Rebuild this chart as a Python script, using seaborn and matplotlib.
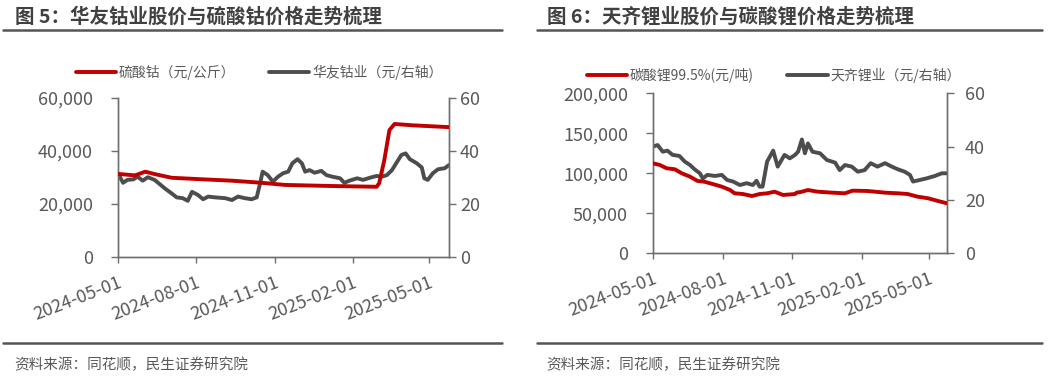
import pandas as pd
import numpy as np
import matplotlib.pyplot as plt
import matplotlib.dates as mdates
from matplotlib.lines import Line2D
from matplotlib.ticker import FuncFormatter
import seaborn as sns

# ---- data: left panel (cobalt sulfate vs Huayou Cobalt) ----
cos_dates = ['2024-05-01', '2024-05-03', '2024-05-21', '2024-06-02', '2024-06-13', '2024-07-03',
             '2024-08-03', '2024-09-12', '2024-10-17', '2024-11-13', '2025-01-06', '2025-03-01',
             '2025-03-04', '2025-03-10', '2025-03-16', '2025-03-22', '2025-04-12', '2025-05-25']
cos_price = [31300, 31300, 30800, 32200, 31300, 29900,
             29400, 28800, 28000, 27200, 26800, 26500,
             27900, 36600, 47900, 50200, 49700, 49000]

hy_dates = ['2024-05-01', '2024-05-03', '2024-05-07', '2024-05-12', '2024-05-19', '2024-05-24', '2024-05-30',
            '2024-06-05', '2024-06-13', '2024-06-19', '2024-06-25', '2024-07-03', '2024-07-09',
            '2024-07-16', '2024-07-22', '2024-07-27', '2024-08-03', '2024-08-09', '2024-08-15',
            '2024-08-23', '2024-09-04', '2024-09-12', '2024-09-19', '2024-09-27', '2024-10-05',
            '2024-10-11', '2024-10-15', '2024-10-18', '2024-10-24', '2024-10-30', '2024-11-05',
            '2024-11-11', '2024-11-17', '2024-11-22', '2024-11-28', '2024-12-03', '2024-12-07',
            '2024-12-12', '2024-12-18', '2024-12-26', '2025-01-01', '2025-01-08', '2025-01-17',
            '2025-01-22', '2025-01-28', '2025-02-06', '2025-02-13', '2025-02-21', '2025-03-01',
            '2025-03-07', '2025-03-13', '2025-03-19', '2025-03-24', '2025-03-30', '2025-04-04',
            '2025-04-09', '2025-04-17', '2025-04-23', '2025-04-26', '2025-04-30', '2025-05-06',
            '2025-05-12', '2025-05-20', '2025-05-25']
hy_price = [30.0, 30.3, 28.0, 29.1, 29.3, 30.3, 28.8,
            30.1, 29.1, 27.5, 25.9, 24.0, 22.5,
            22.2, 21.2, 24.6, 23.4, 21.8, 22.8,
            22.5, 22.2, 21.5, 22.8, 22.2, 21.8,
            22.5, 27.8, 32.2, 30.9, 28.4, 30.3,
            31.6, 32.2, 35.4, 36.9, 35.4, 32.2,
            32.8, 31.8, 32.5, 30.9, 30.3, 29.7,
            28.0, 28.8, 29.7, 29.1, 29.9, 30.6,
            30.3, 30.9, 32.8, 35.4, 38.5, 39.1,
            36.9, 35.4, 33.8, 29.7, 29.1, 31.6,
            33.1, 33.5, 34.7]

# ---- data: right panel (lithium carbonate vs Tianqi Lithium) ----
li_dates = ['2024-05-01', '2024-05-10', '2024-05-19', '2024-05-30', '2024-06-08', '2024-06-19',
            '2024-06-29', '2024-07-08', '2024-07-19', '2024-07-31', '2024-08-11', '2024-08-17',
            '2024-08-28', '2024-09-09', '2024-09-19', '2024-09-29', '2024-10-09', '2024-10-20',
            '2024-11-05', '2024-11-07', '2024-11-14', '2024-11-22', '2024-12-05', '2024-12-24',
            '2025-01-10', '2025-01-20', '2025-02-09', '2025-03-04', '2025-03-21', '2025-04-03',
            '2025-04-16', '2025-04-30', '2025-05-13', '2025-05-25']
li_price = [112500, 110400, 106300, 105000, 100000, 95800,
            90400, 89500, 86600, 83300, 79100, 75000,
            74100, 71600, 74100, 75000, 77000, 72900,
            74100, 75800, 77000, 79100, 77000, 75800,
            75000, 78300, 77900, 75800, 75000, 74100,
            70800, 68800, 65400, 62500]

tq_dates = ['2024-05-01', '2024-05-07', '2024-05-14', '2024-05-20', '2024-05-27', '2024-06-05',
            '2024-06-12', '2024-06-19', '2024-06-25', '2024-07-02', '2024-07-06', '2024-07-12',
            '2024-07-22', '2024-07-31', '2024-08-07', '2024-08-15', '2024-08-24', '2024-09-02',
            '2024-09-10', '2024-09-15', '2024-09-19', '2024-09-23', '2024-09-29', '2024-10-07',
            '2024-10-13', '2024-10-22', '2024-10-29', '2024-11-05', '2024-11-09', '2024-11-14',
            '2024-11-18', '2024-11-22', '2024-11-28', '2024-12-08', '2024-12-17', '2024-12-28',
            '2025-01-03', '2025-01-10', '2025-01-19', '2025-01-27', '2025-02-05', '2025-02-13',
            '2025-02-22', '2025-03-04', '2025-03-13', '2025-03-21', '2025-03-30', '2025-04-06',
            '2025-04-10', '2025-04-19', '2025-04-28', '2025-05-09', '2025-05-18', '2025-05-25']
tq_price = [40.0, 40.6, 38.1, 38.5, 36.9, 36.5,
            34.4, 33.1, 31.5, 30.0, 28.1, 29.4,
            29.0, 29.4, 27.5, 26.9, 25.6, 26.3,
            25.6, 27.2, 25.0, 25.0, 34.4, 38.5,
            32.5, 36.9, 35.6, 36.9, 38.1, 42.7,
            37.5, 41.2, 38.1, 37.5, 35.0, 34.0,
            31.2, 33.1, 32.5, 30.6, 31.2, 33.8,
            32.5, 33.8, 32.5, 31.5, 30.6, 29.4,
            26.9, 27.5, 28.1, 29.0, 30.0, 30.0]

x_ticks = ['2024-05-01', '2024-08-01', '2024-11-01', '2025-02-01', '2025-05-01']
x_range = ('2024-05-01', '2025-05-25')

RED = '#c00000'
GRAY = '#4d4d4d'
TXT = '#595959'

sns.set_theme(style='white')
plt.rcParams['font.family'] = ['Noto Sans CJK SC', 'DejaVu Sans']
plt.rcParams['axes.unicode_minus'] = False

fig = plt.figure(figsize=(10.51, 3.77), dpi=100)


def draw_panel(rect, d1, v1, lab1, d2, v2, lab2, ylim1, yticks1, leg_xy, rpad):
    ax = fig.add_axes(rect)
    ax2 = ax.twinx()
    df1 = pd.DataFrame({'date': pd.to_datetime(d1), 'v': v1})
    df2 = pd.DataFrame({'date': pd.to_datetime(d2), 'v': v2})
    sns.lineplot(data=df1, x='date', y='v', ax=ax, color=RED, lw=2.8, label=lab1, zorder=3)
    sns.lineplot(data=df2, x='date', y='v', ax=ax2, color=GRAY, lw=2.8, label=lab2, zorder=2)
    for a in (ax, ax2):
        if a.get_legend() is not None:
            a.get_legend().remove()
        a.set_xlabel('')
        a.set_ylabel('')
        a.grid(False)
        a.spines['top'].set_visible(False)
        for s in ('left', 'right', 'bottom'):
            a.spines[s].set_color('#6e6e6e')
            a.spines[s].set_linewidth(1.0)
    ax.set_zorder(ax2.get_zorder() + 1)
    ax.patch.set_visible(False)

    ax.set_xlim(pd.Timestamp(x_range[0]), pd.Timestamp(x_range[1]))
    ax.set_xticks(pd.to_datetime(x_ticks))
    ax.xaxis.set_major_formatter(mdates.DateFormatter('%Y-%m-%d'))

    ax.set_ylim(*ylim1)
    ax.set_yticks(yticks1)
    ax.yaxis.set_major_formatter(FuncFormatter(lambda v, p: f'{v:,.0f}'))
    ax2.set_ylim(0, 60)
    ax2.set_yticks([0, 20, 40, 60])

    ax.tick_params(axis='y', colors='#6e6e6e', labelcolor=TXT, labelsize=13,
                   direction='out', length=5, width=1, left=True, pad=13)
    ax.tick_params(axis='x', colors='#6e6e6e', labelcolor=TXT, labelsize=13,
                   direction='out', length=4, width=1, bottom=True, pad=8)
    ax2.tick_params(axis='y', colors='#6e6e6e', labelcolor=TXT, labelsize=13,
                    direction='out', length=5, width=1, right=True, pad=rpad)
    for lbl in ax.get_xticklabels():
        lbl.set_rotation(21)
        lbl.set_ha('right')
        lbl.set_rotation_mode('anchor')

    h1, l1 = ax.get_legend_handles_labels()
    h2, l2 = ax2.get_legend_handles_labels()
    fig.legend(h1 + h2, l1 + l2, loc='center left', bbox_to_anchor=leg_xy, ncol=2,
               frameon=False, fontsize=10, handlelength=2.9, handletextpad=0.2,
               columnspacing=2.4, borderpad=0, borderaxespad=0, labelcolor=TXT)
    return ax, ax2


draw_panel([118 / 1051, 1 - 257 / 377, 331 / 1051, 159 / 377],
           cos_dates, cos_price, '硫酸钴（元/公斤）', hy_dates, hy_price, '华友钴业（元/右轴）',
           (0, 60000), [0, 20000, 40000, 60000], (76 / 1051, 1 - 72 / 377), 3)

draw_panel([653 / 1051, 1 - 253.3 / 377, 294 / 1051, 160 / 377],
           li_dates, li_price, '碳酸锂99.5%(元/吨)', tq_dates, tq_price, '天齐锂业（元/右轴）',
           (0, 200000), [0, 50000, 100000, 150000, 200000], (587 / 1051, 1 - 75.5 / 377), 8)

# titles, rules and source notes
for x0, x1, tx, title in [(3, 502, 15, '图 5：华友钴业股价与硫酸钴价格走势梳理'),
                          (537, 1042, 547, '图 6：天齐锂业股价与碳酸锂价格走势梳理')]:
    fig.text(tx / 1051, 1 - 17 / 377, title, fontsize=14, weight='bold', color='#404040', va='center')
    for yy in (30, 343):
        fig.add_artist(Line2D([x0 / 1051, x1 / 1051], [1 - yy / 377, 1 - yy / 377],
                              transform=fig.transFigure, color='#555555', lw=1.8))
    fig.text(tx / 1051 - 1 / 1051, 1 - 365 / 377, '资料来源：同花顺，民生证券研究院',
             fontsize=10.5, color=TXT, va='center')

fig.savefig('out.png', dpi=100)
